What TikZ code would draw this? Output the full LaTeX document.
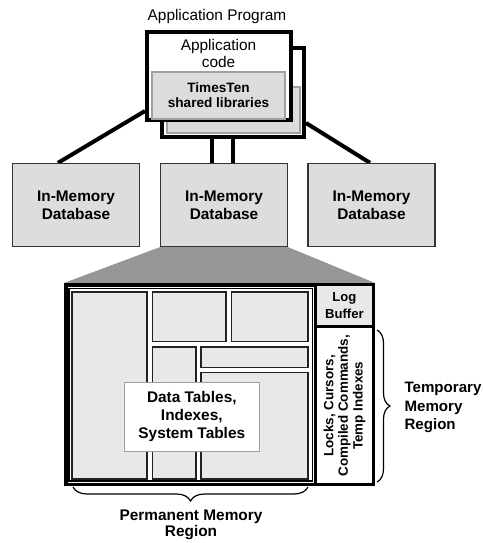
\documentclass[tikz,border=0pt]{standalone}
\usepackage{fontspec}
\setmainfont{Liberation Sans}
\usetikzlibrary{decorations.pathreplacing}
\definecolor{dbfill}{HTML}{DDDDDD}
\definecolor{libfill}{HTML}{DCDCDC}
\definecolor{libdraw}{HTML}{A0A0A0}
\definecolor{cellfill}{HTML}{E8E8E8}
\definecolor{trapfill}{HTML}{969696}
\definecolor{celldraw}{HTML}{222222}
\pgfdeclarelayer{bg}
\pgfsetlayers{bg,main}
\begin{document}
\begin{tikzpicture}[x=1pt,y=-1pt,
  appbox/.style={draw=black, line width=4pt, fill=white, inner sep=0pt},
  libbox/.style={draw=libdraw, line width=1.3pt, fill=libfill, inner sep=0pt, minimum width=133pt},
  dbbox/.style={draw=black!80, line width=1.3pt, fill=dbfill, inner sep=0pt, minimum width=127pt, minimum height=83pt, align=center, font=\bfseries\fontsize{15.4}{18.3}\selectfont},
  conn/.style={line width=4pt},
  cell/.style={draw=celldraw, line width=1.3pt, fill=cellfill, inner sep=0pt},
  heavy/.style={draw=black, line width=3.5pt, inner sep=0pt},
  brc/.style={decorate, decoration={brace, amplitude=13pt}, line width=1.2pt},
  lbl/.style={align=center, font=\bfseries\fontsize{15.4}{18.3}\selectfont}]
\useasboundingbox (0,0) rectangle (482,543);

% application program
\node[font=\fontsize{15.4}{17}\selectfont] (prog) at (217,17) {Application Program};
\node[appbox, minimum width=142pt, minimum height=89pt] (back) at (233,92.5) {};
\node[libbox, minimum height=46pt] (backlib) at (233.5,110) {};
\node[appbox, minimum width=144pt, minimum height=88pt] (front) at (219,76) {};
\node[libbox, minimum height=47pt, align=center, font=\bfseries\fontsize{13.6}{15}\selectfont] (lib) at (218.5,95.5) {TimesTen\\shared libraries};
\node[align=center, font=\fontsize{15.4}{17}\selectfont] (code) at (218.5,53) {Application\\code};

% databases
\node[dbbox] (db1) at (76,205) {In-Memory\\Database};
\node[dbbox] (db2) at (224,205) {In-Memory\\Database};
\node[dbbox] (db3) at (371.5,205) {In-Memory\\Database};

% memory layout
\node[heavy, fill=white, minimum width=307.5pt, minimum height=199.5pt] (mem) at (219.5,384.5) {};
\node[draw=black, line width=1.2pt, inner sep=0pt, minimum width=243.5pt, minimum height=192.7pt] (perm) at (190.75,384.65) {};
\node[cell, minimum width=75pt, minimum height=187pt] (r1) at (109.5,385.5) {};
\node[cell, minimum width=73.5pt, minimum height=49.5pt] (r2) at (189.25,316.75) {};
\node[cell, minimum width=76.5pt, minimum height=49.5pt] (r3) at (269.75,316.75) {};
\node[cell, minimum width=43.5pt, minimum height=132pt] (r4) at (174.25,413) {};
\node[cell, minimum width=107pt, minimum height=20.5pt] (r5) at (254.5,357.25) {};
\node[cell, minimum width=107pt, minimum height=106.5pt] (r6) at (254.5,425.75) {};
\node[draw=libdraw, line width=1.2pt, fill=white, inner sep=0pt, minimum width=135pt, minimum height=69.4pt, lbl, font=\bfseries\fontsize{15.4}{18}\selectfont] (data) at (191.8,417) {Data Tables,\\Indexes,\\System Tables};
\node[heavy, fill=cellfill, minimum width=57.75pt, minimum height=41.75pt, align=center, font=\bfseries\fontsize{13.1}{16.7}\selectfont] (log) at (344.4,305.6) {Log\\Buffer};
\node[heavy, fill=white, minimum width=57.75pt, minimum height=157.75pt] (temp) at (344.4,405.4) {};
\node[rotate=90, align=center, font=\bfseries\fontsize{13.4}{14.6}\selectfont] (templist) at (344.5,405.8) {Locks, Cursors,\\Compiled Commands,\\Temp Indexes};

% braces and region labels
\draw[brc] (377,330) -- (377,482);
\node[lbl, align=left, anchor=west, font=\bfseries\fontsize{15.1}{18.5}\selectfont] (templbl) at (401,407.5) {Temporary\\Memory\\Region};
\draw[brc, decoration={amplitude=14pt}] (308,487) -- (73,487);
\node[lbl, font=\bfseries\fontsize{15.4}{16.5}\selectfont] (permlbl) at (191,525) {Permanent Memory\\Region};

% connectors and zoom wedge behind everything
\begin{pgfonlayer}{bg}
\fill[trapfill] (db2.south west) -- (db2.south east) -- (mem.north east) -- (mem.north west) -- cycle;
\draw[conn] ([yshift=-35pt]front.west) -- ([xshift=-18pt]db1.north);
\draw[conn] ([yshift=-30.5pt]back.east) -- ([xshift=-1.5pt]db3.north);
\draw[conn] ([xshift=-7pt]front.south) -- ([xshift=-7pt]front.south |- db2.north);
\draw[conn] (back.south) -- (back.south |- db2.north);
\end{pgfonlayer}
\end{tikzpicture}
\end{document}
